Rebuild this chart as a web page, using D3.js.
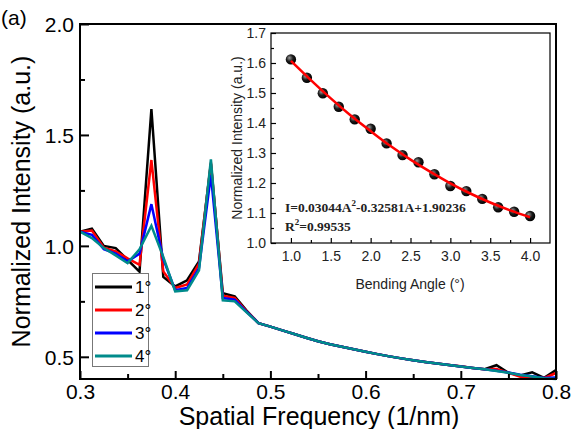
<!DOCTYPE html>
<html><head><meta charset="utf-8">
<script src="https://cdn.jsdelivr.net/npm/d3@7/dist/d3.min.js"></script>
<style>body{margin:0;background:#fff}svg{display:block}</style>
</head><body>
<svg id="chart" width="571" height="429"></svg>
<script>
// ---- data ----
const freq = [0.3,0.3125,0.325,0.3375,0.35,0.3625,0.375,0.3875,0.4,0.4125,0.425,0.4375,0.45,0.4625,0.475,0.4875,
  0.5,0.5125,0.525,0.5375,0.55,0.5625,0.575,0.5875,0.6,0.6125,0.625,0.6375,0.65,0.6625,0.675,0.6875,
  0.7,0.7125,0.725,0.7375,0.75,0.7625,0.775,0.7875,0.8];
const angle1 = [1.064,1.077,1.000,0.990,0.937,0.884,1.616,0.860,0.817,0.845,0.930,1.370,0.787,0.772,0.708,0.652,
  0.636,0.619,0.603,0.586,0.570,0.557,0.545,0.534,0.523,0.512,0.502,0.493,0.485,0.477,0.470,0.463,
  0.456,0.450,0.444,0.462,0.428,0.416,0.430,0.405,0.440];
const angle2 = [1.064,1.069,0.992,0.975,0.944,0.915,1.387,0.885,0.810,0.826,0.920,1.375,0.775,0.765,0.705,0.652,
  0.636,0.619,0.603,0.586,0.570,0.557,0.545,0.534,0.523,0.512,0.502,0.493,0.485,0.477,0.470,0.463,
  0.457,0.450,0.444,0.445,0.428,0.410,0.408,0.404,0.427];
const angle3 = [1.064,1.050,0.985,0.965,0.930,0.965,1.188,0.940,0.800,0.810,0.900,1.320,0.765,0.758,0.703,0.652,
  0.636,0.619,0.603,0.586,0.570,0.557,0.545,0.534,0.523,0.512,0.502,0.493,0.485,0.477,0.470,0.463,
  0.456,0.450,0.444,0.437,0.429,0.419,0.412,0.405,0.407];
const angle4 = [1.064,1.035,0.990,0.957,0.922,0.985,1.090,0.950,0.795,0.800,0.890,1.390,0.755,0.750,0.700,0.652,
  0.636,0.619,0.603,0.586,0.570,0.557,0.545,0.534,0.523,0.512,0.502,0.493,0.485,0.477,0.470,0.463,
  0.456,0.450,0.444,0.436,0.428,0.418,0.411,0.403,0.400];
const seriesNames = ["1°","2°","3°","4°"];
const seriesColors = ["#000000","#ff0000","#0000ff","#008b8b"];
const xTicks = [0.3,0.4,0.5,0.6,0.7,0.8];
const yTicks = [0.5,1.0,1.5,2.0];

// inset data
const bendAngle = [1.0,1.2,1.4,1.6,1.8,2.0,2.2,2.4,2.6,2.8,3.0,3.2,3.4,3.6,3.8,4.0];
const bendIntensity = [1.612,1.551,1.499,1.454,1.412,1.381,1.332,1.293,1.269,1.229,1.190,1.173,1.147,1.119,1.104,1.090];
const fitAngle = [1.0,1.25,1.5,1.75,2.0,2.25,2.5,2.75,3.0,3.25,3.5,3.75,4.0];
const fitIntensity = [1.607,1.543,1.482,1.425,1.373,1.323,1.278,1.237,1.199,1.165,1.135,1.109,1.086];
const insetXTicks = [1.0,1.5,2.0,2.5,3.0,3.5,4.0];
const insetYTicks = [1.0,1.1,1.2,1.3,1.4,1.5,1.6,1.7];

// ---- drawing ----
const svg = d3.select("#chart");
const font = "'Liberation Sans', Arial, sans-serif";
const P = {l:80, r:556, t:24, b:379};
const x = d3.scaleLinear().domain([0.3,0.8]).range([P.l,P.r]);
const y = d3.scaleLinear().domain([0.4,2.0]).range([P.b,P.t]);

const series = [angle1,angle2,angle3,angle4];
const line = d3.line().x((d,i)=>x(freq[i])).y(d=>y(d));
const gLines = svg.append("g");
series.forEach((s,i)=>{
  gLines.append("path").datum(s).attr("d",line).attr("fill","none")
    .attr("stroke",seriesColors[i]).attr("stroke-width",2.5).attr("stroke-linejoin","miter");
});

// axes (ticks inward)
const xAxis = d3.axisBottom(x).tickValues(xTicks).tickFormat(d3.format(".1f")).tickSize(-8).tickPadding(5);
svg.append("g").attr("transform",`translate(0,${P.b})`).call(xAxis);
const xMinor = d3.axisBottom(x).tickValues([0.35,0.45,0.55,0.65,0.75]).tickFormat("").tickSize(-5);
svg.append("g").attr("transform",`translate(0,${P.b})`).call(xMinor);
const yAxis = d3.axisLeft(y).tickValues(yTicks).tickFormat(d3.format(".1f")).tickSize(-9).tickPadding(6);
svg.append("g").attr("class","yax").attr("transform",`translate(${P.l},0)`).call(yAxis);
const yMinor = d3.axisLeft(y).tickValues([0.75,1.25,1.75]).tickFormat("").tickSize(-5);
svg.append("g").attr("transform",`translate(${P.l},0)`).call(yMinor);
svg.selectAll(".domain").remove();
svg.selectAll(".tick line").attr("stroke","#000").attr("stroke-width",2);
svg.selectAll(".tick text").attr("font-family",font).attr("font-size",21).attr("fill","#000");
svg.selectAll(".yax .tick text").attr("dy","0.36em");
svg.append("rect").attr("x",P.l).attr("y",P.t).attr("width",P.r-P.l).attr("height",P.b-P.t)
  .attr("fill","none").attr("stroke","#000").attr("stroke-width",2);

svg.append("text").attr("x",(P.l+P.r)/2+1).attr("y",425).attr("text-anchor","middle")
  .attr("font-family",font).attr("font-size",25).text("Spatial Frequency (1/nm)");
svg.append("text").attr("transform",`translate(30,${(P.t+P.b)/2}) rotate(-90)`).attr("text-anchor","middle")
  .attr("font-family",font).attr("font-size",25).text("Normalized Intensity (a.u.)");
svg.append("text").attr("x",1).attr("y",25).attr("font-family",font).attr("font-size",21).text("(a)");

// legend
const lg = svg.append("g");
lg.append("rect").attr("x",92.5).attr("y",273.5).attr("width",56).attr("height",93)
  .attr("fill","#fff").attr("stroke","#777").attr("stroke-width",1);
seriesNames.forEach((n,i)=>{
  const yy = 287 + i*23;
  lg.append("line").attr("x1",95).attr("x2",132).attr("y1",yy).attr("y2",yy)
    .attr("stroke",seriesColors[i]).attr("stroke-width",3);
  lg.append("text").attr("x",135).attr("y",yy+6).attr("font-family",font).attr("font-size",17).text(n);
});

// ---- inset ----
const I = {l:271, r:550, t:33, b:243};
const ix = d3.scaleLinear().domain([0.75,4.25]).range([I.l,I.r]);
const iy = d3.scaleLinear().domain([1.0,1.7]).range([I.b,I.t]);
const ig = svg.append("g");
ig.append("rect").attr("x",I.l).attr("y",I.t).attr("width",I.r-I.l).attr("height",I.b-I.t)
  .attr("fill","#fff").attr("stroke","#000").attr("stroke-width",1.2);
ig.append("g").attr("class","iax").attr("transform",`translate(0,${I.b})`)
  .call(d3.axisBottom(ix).tickValues(insetXTicks).tickFormat(d3.format(".1f")).tickSize(-5).tickPadding(8));
ig.append("g").attr("class","iax").attr("transform",`translate(0,${I.b})`)
  .call(d3.axisBottom(ix).tickValues([1.25,1.75,2.25,2.75,3.25,3.75]).tickFormat("").tickSize(-3));
ig.append("g").attr("class","iax iy").attr("transform",`translate(${I.l},0)`)
  .call(d3.axisLeft(iy).tickValues(insetYTicks).tickFormat(d3.format(".1f")).tickSize(-5).tickPadding(5));
ig.append("g").attr("class","iax").attr("transform",`translate(${I.l},0)`)
  .call(d3.axisLeft(iy).tickValues([1.05,1.15,1.25,1.35,1.45,1.55,1.65]).tickFormat("").tickSize(-3));
ig.selectAll(".domain").remove();
ig.selectAll(".tick line").attr("stroke","#000").attr("stroke-width",1.2);
ig.selectAll(".tick text").attr("font-family",font).attr("font-size",14).attr("fill","#222");

const defs = svg.append("defs");
const rg = defs.append("radialGradient").attr("id","ball").attr("cx","0.4").attr("cy","0.4").attr("r","0.6").attr("fx","0.35").attr("fy","0.35");
rg.append("stop").attr("offset","0").attr("stop-color","#9a9a9a");
rg.append("stop").attr("offset","0.55").attr("stop-color","#1a1a1a");
rg.append("stop").attr("offset","1").attr("stop-color","#000");

ig.selectAll("circle.pt").data(bendAngle).join("circle").attr("class","pt")
  .attr("cx",d=>ix(d)).attr("cy",(d,i)=>iy(bendIntensity[i])).attr("r",5.2).attr("fill","url(#ball)");
const fitLine = d3.line().x((d,i)=>ix(fitAngle[i])).y(d=>iy(d)).curve(d3.curveNatural);
ig.append("path").datum(fitIntensity).attr("d",fitLine).attr("fill","none")
  .attr("stroke","#ff0000").attr("stroke-width",2.5);

ig.append("text").attr("x",410).attr("y",289).attr("text-anchor","middle")
  .attr("font-family",font).attr("font-size",14).attr("fill","#222").text("Bending Angle (°)");
ig.append("text").attr("transform",`translate(242,${(I.t+I.b)/2}) rotate(-90)`).attr("text-anchor","middle")
  .attr("font-family",font).attr("font-size",14).attr("fill","#222").text("Normalized Intensity (a.u.)");
const serif = "'Liberation Serif','Times New Roman',serif";
const eq = ig.append("text").attr("x",285).attr("y",212).attr("font-family",serif).attr("font-weight","bold")
  .attr("font-size",13.5).attr("fill","#222");
eq.append("tspan").text("I=0.03044A");
eq.append("tspan").attr("font-size",9).attr("dy",-6).text("2");
eq.append("tspan").attr("dy",6).text("-0.32581A+1.90236");
const r2 = ig.append("text").attr("x",285).attr("y",231).attr("font-family",serif).attr("font-weight","bold")
  .attr("font-size",13.5).attr("fill","#222");
r2.append("tspan").text("R");
r2.append("tspan").attr("font-size",9).attr("dy",-6).text("2");
r2.append("tspan").attr("dy",6).text("=0.99535");
</script>
</body></html>
